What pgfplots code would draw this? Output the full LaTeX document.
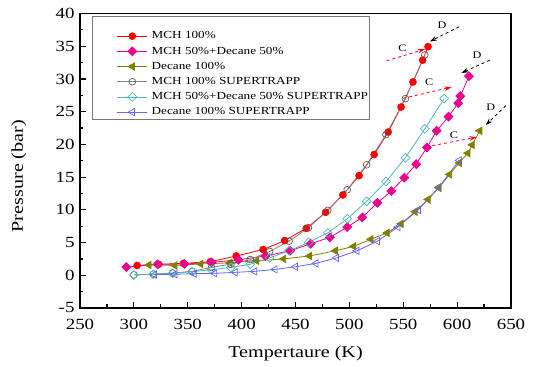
\documentclass[border=0pt]{standalone}
\usepackage{fontspec}
\setmainfont{Liberation Serif}[FakeStretch=1.22]
\usepackage{pgfplots}
\pgfplotsset{compat=1.18}
\usetikzlibrary{arrows.meta}
\definecolor{olivec}{RGB}{128,128,0}
\definecolor{mchst}{RGB}{90,90,90}
\definecolor{mchstl}{RGB}{130,130,130}
\definecolor{cyanst}{RGB}{80,185,185}
\definecolor{bluest}{RGB}{100,100,255}
\definecolor{legframe}{RGB}{120,120,120}
\begin{document}
\begin{tikzpicture}
\begin{axis}[
  scale only axis, width=431bp, height=294.5bp,
  xmin=250, xmax=650, ymin=-5, ymax=40,
  xtick={250,300,...,650}, ytick={-5,0,...,40},
  minor x tick num=1, minor y tick num=1,
  tick pos=left, tick align=inside,
  major tick length=6bp, minor tick length=3.5bp,
  every tick/.style={black, line width=1.2bp},
  axis line style={line width=1.8bp},
  /pgf/number format/assume math mode=true,
  ticklabel style={font=\fontsize{15.5bp}{18bp}\selectfont},
  xticklabel style={yshift=-7.5bp},
  yticklabel style={xshift=-2bp},
  xlabel={Tempertaure (K)}, ylabel={Pressure (bar)},
  label style={font=\fontsize{16.5bp}{19bp}\selectfont},
  xlabel style={at={(axis description cs:0.5,-0.155)}, anchor=center},
  ylabel style={at={(axis description cs:-0.1415,0.448)}, anchor=center},
  legend cell align=left,
  legend style={at={(axis description cs:0.0852,0.9416)}, anchor=north west,
    draw=none, fill=none, inner sep=0pt, row sep=4.7bp, column sep=4bp,
    font=\fontsize{10.8bp}{12bp}\selectfont,
    nodes={inner sep=0pt, text height=8bp, text depth=2.5bp}},
  legend image code/.code={%
    \draw[mark repeat=2,mark phase=2] plot coordinates {(0bp,0bp) (15bp,0bp) (30bp,0bp)};},
]
% MCH 100%
\addplot[red, line width=0.8bp, mark=*, mark size=3.4bp, mark options={solid, fill=red}] coordinates {
(303,1.5) (323,1.68) (346,1.82) (371,2.07) (395,2.95) (420,3.93) (440,5.31) (460,7.17)
(478,9.62) (494,12.27) (509,15.22) (523,18.45) (536,21.89) (548,25.71) (559,29.54) (568,32.87) (573,34.93)};
% MCH 50% + Decane 50%
\addplot[magenta, line width=0.8bp, mark=square*, mark size=3.1bp, mark options={solid, fill=magenta, rotate=45}] coordinates {
(293,1.25) (322,1.68) (347,1.72) (372,1.97) (397,2.36) (422,2.95) (445,3.74) (464,4.82) (482,5.8)
(498,7.37) (512,8.84) (526,11.09) (539,12.86) (551,14.92) (562,16.98) (572,19.53) (581,22.08)
(592,24.24) (601,26.3) (603,27.38) (611,30.42)};
% Decane 100%
\addplot[olivec, line width=0.8bp, mark=triangle*, mark size=4.2bp, mark options={solid, fill=olivec, rotate=90}] coordinates {
(314,1.58) (338,1.5) (362,1.73) (389,1.9) (414,2.22) (439,2.5) (463,2.95) (487,3.74) (504,4.42)
(520,5.5) (535,6.48) (548,7.86) (561,9.72) (573,11.59) (583,13.35) (593,15.41) (602,17.18)
(610,18.65) (614,19.92) (621,22.08)};
% MCH 100% SUPERTRAPP
\addplot[mchstl, line width=0.8bp, mark=o, mark size=3.4bp, mark options={solid, draw=mchst, fill=white, line width=0.7bp}] coordinates {
(300,0.07) (318,0.18) (336,0.35) (354,0.6) (372,1.2) (390,1.7) (408,2.4) (426,3.64) (444,5.21)
(462,7.27) (480,9.92) (498,13.06) (516,16.88) (534,21.49) (552,26.99) (570,33.66)};
% MCH 50% + Decane 50% SUPERTRAPP
\addplot[cyanst, line width=0.8bp, mark=square, mark size=3.1bp, mark options={solid, fill=white, rotate=45, line width=0.7bp}] coordinates {
(300,0.04) (318,0.15) (336,0.3) (354,0.55) (372,0.85) (390,1.2) (408,1.68) (426,2.66) (444,3.74)
(462,5.01) (480,6.48) (498,8.64) (516,11.29) (534,14.33) (552,17.96) (570,22.38) (588,26.99)};
% Decane 100% SUPERTRAPP
\addplot[bluest, line width=0.8bp, mark=triangle, mark size=4.2bp, mark options={solid, fill=white, rotate=90, line width=0.7bp}] coordinates {
(319,0.1) (338,0.15) (356,0.25) (375,0.3) (394,0.45) (412,0.6) (431,0.9) (450,1.3) (469,1.82)
(488,2.66) (507,3.74) (526,5.21) (545,7.37) (564,10.0) (583,13.45) (602,17.57)};
\legend{MCH 100\%,MCH 50\%+Decane 50\%,Decane 100\%,MCH 100\% SUPERTRAPP,MCH 50\%+Decane 50\% SUPERTRAPP,Decane 100\% SUPERTRAPP}
% legend frame
\draw[legframe, line width=0.7bp] (axis description cs:0.0295,0.9915) rectangle (axis description cs:0.6705,0.6408);
% annotations C and D
\draw[red, dashed, line width=0.8bp, -{Stealth[length=7bp,width=4.5bp]}] (axis cs:534.5,32.77) -- (axis cs:570,34.54);
\draw[black, dashed, line width=0.8bp, -{Stealth[length=7bp,width=4.5bp]}] (axis cs:601.8,37.97) -- (axis cs:574.7,35.72);
\draw[red, dashed, line width=0.8bp, -{Stealth[length=7bp,width=4.5bp]}] (axis cs:550,27.04) -- (axis cs:594.8,28.75);
\draw[black, dashed, line width=0.8bp, -{Stealth[length=7bp,width=4.5bp]}] (axis cs:630.3,32.87) -- (axis cs:604,30.91);
\draw[red, dashed, line width=0.8bp, -{Stealth[length=7bp,width=4.5bp]}] (axis cs:571.6,19.63) -- (axis cs:618,21.1);
\draw[black, dashed, line width=0.8bp, -{Stealth[length=7bp,width=4.5bp]}] (axis cs:645.2,25.91) -- (axis cs:626.6,22.96);
\node[font=\fontsize{10bp}{12bp}\selectfont] at (axis cs:549.3,34.69) {C};
\node[font=\fontsize{10bp}{12bp}\selectfont] at (axis cs:586,38.27) {D};
\node[font=\fontsize{10bp}{12bp}\selectfont] at (axis cs:574,29.54) {C};
\node[font=\fontsize{10bp}{12bp}\selectfont] at (axis cs:618.5,33.66) {D};
\node[font=\fontsize{10bp}{12bp}\selectfont] at (axis cs:597,21.4) {C};
\node[font=\fontsize{10bp}{12bp}\selectfont] at (axis cs:631.3,25.71) {D};
\end{axis}
\pgfresetboundingbox
\useasboundingbox (current axis.south west) ++(-80bp,-59bp) rectangle ++(535bp,367bp);
\end{tikzpicture}
\end{document}
